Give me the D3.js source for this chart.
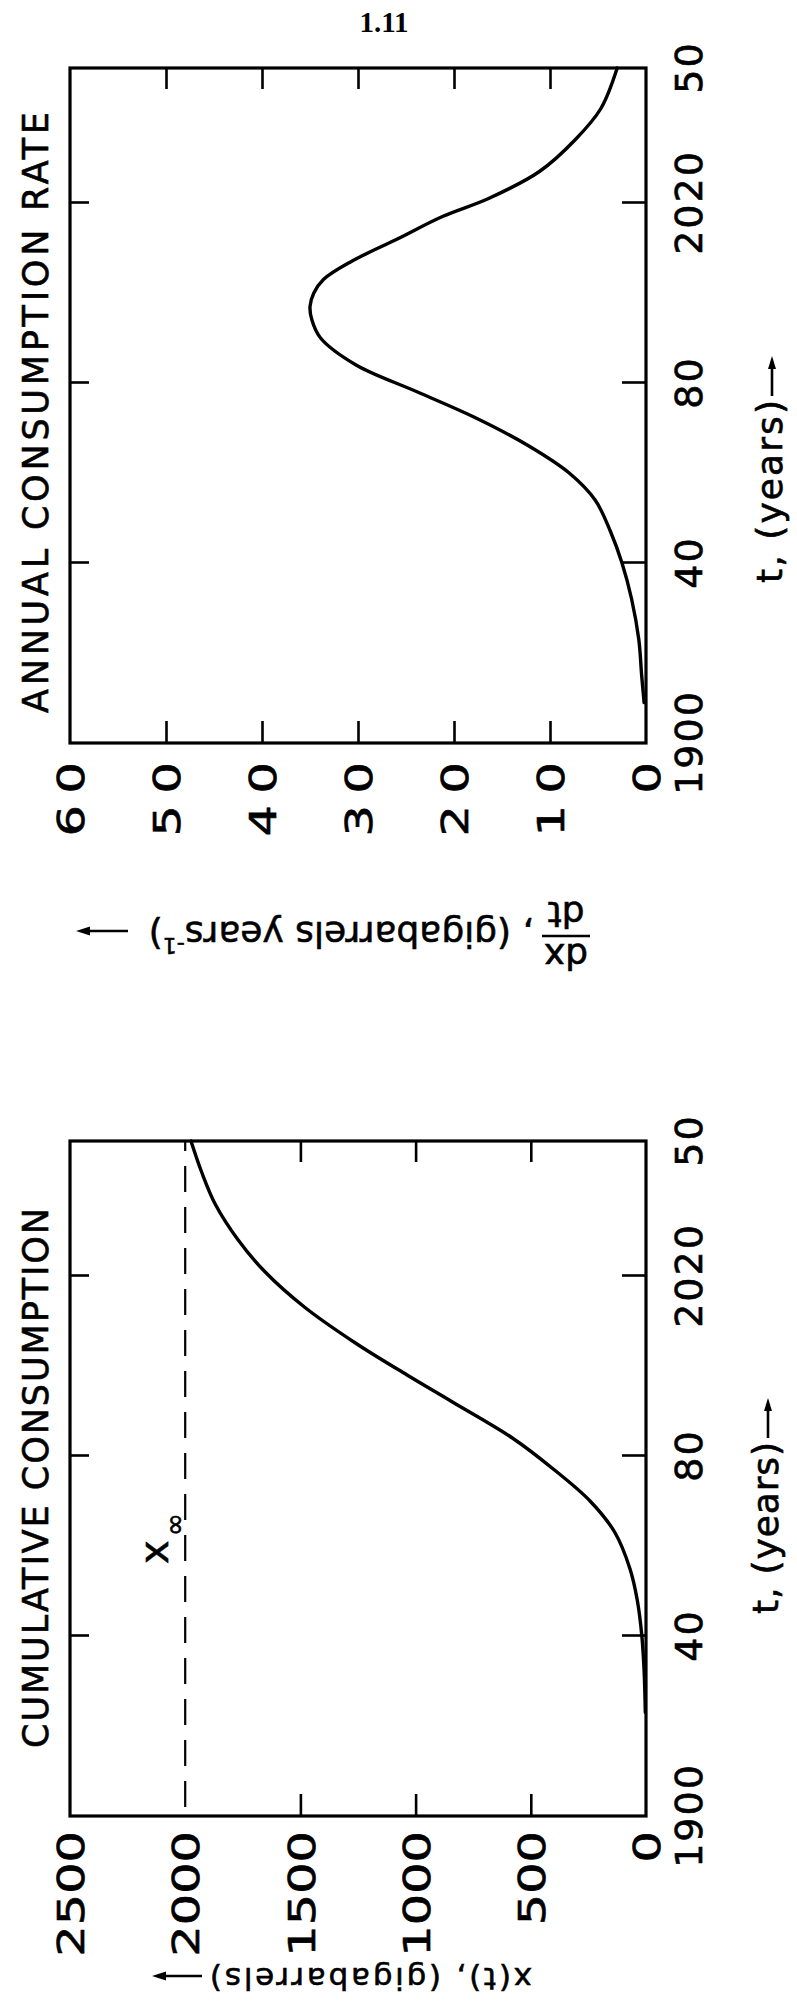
<!DOCTYPE html>
<html><head><meta charset="utf-8">
<script src="https://cdn.jsdelivr.net/npm/d3@7"></script>
<style>body{margin:0;background:#fff}svg{display:block}</style>
</head><body>
<svg id="c" width="797" height="2006"></svg>
<script>
// ---------------- data ----------------
const pageLabel = "1.11";
const rateTitle = "ANNUAL CONSUMPTION RATE";
const cumTitle = "CUMULATIVE CONSUMPTION";
const timeTitle = "t, (years)";
const rateYears  = [1909,1915,1923,1932,1940,1947,1954,1960,1966,1972,1978,1984,1990,1994,1997,2000,2003,2007,2012,2017,2021,2027,2034,2041,2050];
const rateValues = [0.2,0.45,0.75,1.5,2.5,3.7,5.3,8.0,12.2,17.5,23.8,30.2,33.9,34.8,35.0,34.6,33.6,30.7,25.9,21.2,16.4,11.1,7.4,4.7,3.0];
const cumYears   = [1923,1932,1940,1948,1955,1963,1970,1977,1984,1992,1998,2005,2013,2021,2028,2036,2043,2050];
const cumValues  = [3,8,18,38,70,135,243,400,580,840,1037,1258,1480,1655,1770,1870,1928,1975];
const xInfinity = 2000;
const timeDomain = [1900, 2050];
const timeTickValues = [1900, 1940, 1980, 2020, 2050];
const timeTickLabels = ["1900", "40", "80", "2020", "50"];
const timeMarkValues = [1940, 1980, 2020];
const rateDomain = [0, 60];
const rateTickValues = [0, 10, 20, 30, 40, 50, 60];
const rateTickLabels = ["0", "10", "20", "30", "40", "50", "60"];
const rateMarkValues = [10, 20, 30, 40, 50];
const cumDomain = [0, 2500];
const cumTickValues = [0, 500, 1000, 1500, 2000, 2500];
const cumTickLabels = ["0", "500", "1000", "1500", "2000", "2500"];
const cumMarkValues = [500, 1000, 1500];

// ---------------- layout ----------------
const FONT = "DejaVu Sans";
const W = 675, H = 576;
const svg = d3.select("#c");
svg.append("rect").attr("width", 797).attr("height", 2006).attr("fill", "#fff");

svg.append("text").text(pageLabel)
  .attr("x", 384).attr("y", 32).attr("text-anchor", "middle")
  .attr("font-family", "Liberation Serif").attr("font-size", 29).attr("font-weight", "bold").attr("fill", "#000");

const ink = sel => sel.attr("fill", "#000").attr("stroke", "#000").attr("stroke-width", 0.6);

function panel(ox, oy, yDomain, tickVals, tickLabs, markVals, series, opts) {
  // landscape chart, rotated -90 deg onto the page
  const g = svg.append("g").attr("transform", `translate(${ox},${oy}) rotate(-90)`);
  const x = d3.scaleLinear().domain(timeDomain).range([0, W]);
  const y = d3.scaleLinear().domain(yDomain).range([H, 0]);

  if (opts.dash != null) {
    g.append("line")
      .attr("x1", W).attr("x2", 0)
      .attr("y1", y(opts.dash)).attr("y2", y(opts.dash))
      .attr("stroke", "#000").attr("stroke-width", 2.2)
      .attr("stroke-dasharray", "26 15").attr("stroke-dashoffset", 16);
  }

  const styleTicks = sel => {
    sel.select(".domain").remove();
    sel.selectAll(".tick line").attr("stroke", "#000").attr("stroke-width", 2.6);
    sel.selectAll(".tick text").remove();
  };
  g.append("g").attr("transform", `translate(0,${H})`)
    .call(d3.axisBottom(x).tickValues(timeMarkValues).tickSize(-24).tickFormat("")).call(styleTicks);
  g.append("g")
    .call(d3.axisTop(x).tickValues(timeMarkValues).tickSize(-19).tickFormat("")).call(styleTicks);
  g.append("g")
    .call(d3.axisLeft(y).tickValues(markVals).tickSize(-22).tickFormat("")).call(styleTicks);
  g.append("g").attr("transform", `translate(${W},0)`)
    .call(d3.axisRight(y).tickValues(markVals).tickSize(-21).tickFormat("")).call(styleTicks);

  g.append("rect").attr("width", W).attr("height", H)
    .attr("fill", "none").attr("stroke", "#000").attr("stroke-width", 3.2);

  const line = d3.line().x(d => x(d[0])).y(d => y(d[1])).curve(d3.curveCatmullRom.alpha(0.5));
  g.append("path").datum(series)
    .attr("d", line).attr("fill", "none").attr("stroke", "#000")
    .attr("stroke-width", 3.4).attr("stroke-linecap", "round");

  const SX = 1.3, ls = opts.valueSpacing;
  const gv = g.append("g").call(d3.axisLeft(y).tickValues(tickVals).tickFormat((d, i) => tickLabs[i]).tickSize(0));
  gv.select(".domain").remove();
  gv.selectAll(".tick text")
    .attr("font-family", FONT).attr("font-size", 38).call(ink)
    .attr("letter-spacing", ls).attr("text-anchor", "end")
    .attr("transform", `scale(${SX},1)`)
    .attr("x", opts.valueEnd / SX + ls).attr("dy", "0.36em");

  const gt = g.append("g").attr("transform", `translate(0,${H})`)
    .call(d3.axisBottom(x).tickValues(timeTickValues).tickFormat((d, i) => timeTickLabels[i]).tickSize(0));
  gt.select(".domain").remove();
  gt.selectAll(".tick text")
    .attr("font-family", FONT).attr("font-size", 38).call(ink)
    .attr("letter-spacing", 2).attr("text-anchor", "middle")
    .attr("y", 56).attr("dy", 0);

  g.append("text").text(opts.title)
    .attr("x", opts.titleStart).attr("y", -22)
    .attr("textLength", opts.titleLen).attr("lengthAdjust", "spacing")
    .attr("font-family", FONT).attr("font-size", 35).call(ink);

  g.append("text").text(timeTitle)
    .attr("x", opts.tStart).attr("y", opts.tBase)
    .attr("textLength", opts.tLen).attr("lengthAdjust", "spacing")
    .attr("font-family", FONT).attr("font-size", 36).call(ink);
  const ax0 = opts.tStart + opts.tLen + 4, ax1 = ax0 + 40, ay = opts.tBase - 10;
  g.append("line").attr("x1", ax0).attr("x2", ax1 - 8).attr("y1", ay).attr("y2", ay)
    .attr("stroke", "#000").attr("stroke-width", 2.6);
  g.append("path").attr("d", `M${ax1},${ay} L${ax1 - 13},${ay - 4} L${ax1 - 13},${ay + 4} Z`).attr("fill", "#000");

  return {g, x, y};
}

const topPanel = panel(70, 743, rateDomain, rateTickValues, rateTickLabels, rateMarkValues,
  rateYears.map((t, i) => [t, rateValues[i]]),
  {title: rateTitle, titleStart: 30, titleLen: 601, valueEnd: -19, valueSpacing: 9,
   tStart: 160, tLen: 183, tBase: 712, dash: null});

{
  const t = topPanel.g.append("g").attr("transform", "translate(-179,520) rotate(-90)");
  t.append("text").text("dx").attr("x", 24).attr("y", -22).attr("text-anchor", "middle")
    .attr("font-family", FONT).attr("font-size", 36).call(ink);
  t.append("line").attr("x1", 0).attr("x2", 48).attr("y1", -14).attr("y2", -14)
    .attr("stroke", "#000").attr("stroke-width", 2.4);
  t.append("text").text("dt").attr("x", 24).attr("y", 20).attr("text-anchor", "middle")
    .attr("font-family", FONT).attr("font-size", 36).call(ink);
  const main = t.append("text").attr("x", 56).attr("y", 0)
    .attr("font-family", FONT).attr("font-size", 36).call(ink);
  main.append("tspan").text(", (gigabarrels years");
  main.append("tspan").text("-1").attr("font-size", 22).attr("dy", -16);
  main.append("tspan").text(")").attr("dy", 16);
  t.append("line").attr("x1", 462).attr("x2", 502).attr("y1", -9).attr("y2", -9)
    .attr("stroke", "#000").attr("stroke-width", 2.6);
  t.append("path").attr("d", "M514,-9 L500,-13.5 L500,-4.5 Z").attr("fill", "#000");
}

const botPanel = panel(70, 1816, cumDomain, cumTickValues, cumTickLabels, cumMarkValues,
  cumYears.map((t, i) => [t, cumValues[i]]),
  {title: cumTitle, titleStart: 68, titleLen: 540, valueEnd: -15, valueSpacing: 0,
   tStart: 202, tLen: 172, tBase: 708, dash: xInfinity});

{
  const lab = botPanel.g.append("text").attr("x", 252).attr("y", 98)
    .attr("font-family", FONT).attr("font-size", 40).call(ink);
  lab.append("tspan").text("x");
  lab.append("tspan").text("∞").attr("font-size", 28).attr("dx", 4).attr("dy", 16);
}

{
  const t = botPanel.g.append("g").attr("transform", "translate(-152,462) rotate(-90)");
  t.append("text").text("x(t), (gigabarrels)").attr("x", 0).attr("y", 0)
    .attr("textLength", 322).attr("lengthAdjust", "spacing")
    .attr("font-family", FONT).attr("font-size", 31).call(ink);
  t.append("line").attr("x1", 330).attr("x2", 368).attr("y1", -8).attr("y2", -8)
    .attr("stroke", "#000").attr("stroke-width", 2.6);
  t.append("path").attr("d", "M380,-8 L366,-12.5 L366,-3.5 Z").attr("fill", "#000");
}
</script>
</body></html>
